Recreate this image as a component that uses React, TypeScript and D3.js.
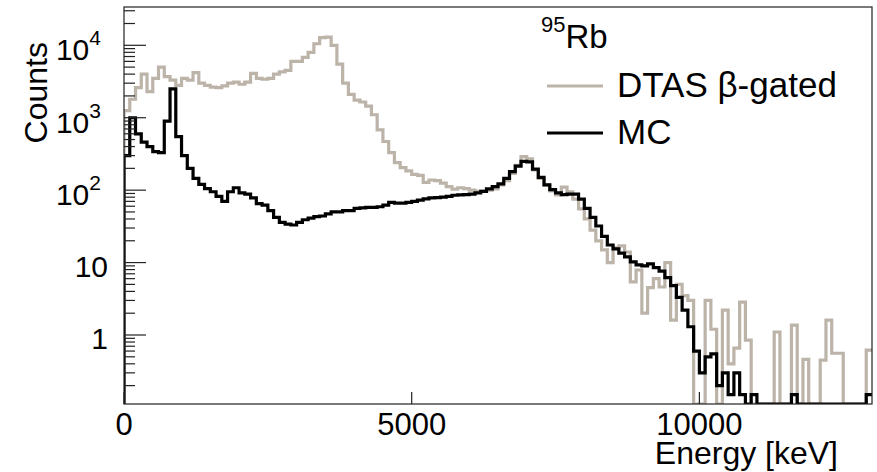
import React from 'react';
import * as d3 from 'd3';

// ---- data (bin width 100 keV, bins start at 0 keV) ----
const binWidth = 100;
const mcCounts = [
  300, 1000, 600, 460, 400, 340, 330, 900, 2500, 550,
  300, 200, 145, 120, 105, 95, 82, 70, 95, 108,
  92, 88, 78, 65, 62, 52, 42, 36, 34, 33,
  36, 39, 41, 43, 44, 47, 50, 50, 52, 52,
  56, 57, 58, 58, 59, 62, 68, 66, 66, 68,
  70, 73, 76, 78, 79, 80, 82, 85, 86, 87,
  88, 92, 96, 104, 112, 122, 145, 180, 215, 250,
  245, 195, 150, 118, 102, 92, 87, 88, 88, 75,
  56, 42, 32, 23, 17.5, 15.5, 13.5, 12, 10.2, 9.3,
  9.0, 9.6, 8.5, 7.6, 6.2, 4.8, 3.3, 2.2, 1.3, 0.6,
  0.3, 0.5, 0.55, 0.2, 0.3, 0.15, 0.3, 0.15, 0, 0.15,
  0, 0, 0, 0, 0, 0, 0.15, 0, 0, 0,
  0, 0, 0, 0, 0, 0, 0, 0, 0, 0.15,
];
const dtasCounts = [
  1250, 1800, 2600, 4000, 2300, 3500, 5000, 3700, 3300, 2800,
  3500, 3300, 4200, 3000, 2800, 2650, 2600, 2750, 3000, 3100,
  2900, 3100, 4100, 3500, 3400, 3500, 4000, 4300, 4500, 6000,
  6000, 6800, 8000, 10500, 12800, 13000, 10000, 5500, 3000, 2100,
  1750, 1650, 1450, 1100, 680, 470, 330, 240, 205, 185,
  165, 160, 128, 138, 135, 125, 112, 103, 108, 105,
  100, 96, 97, 100, 104, 118, 135, 170, 220, 290,
  270, 190, 145, 118, 98, 86, 110, 95, 75, 55,
  40, 28, 20, 15, 10, 16, 17, 14, 5.4, 7.9,
  2.0, 4.5, 6.0, 4.6, 10, 1.6, 5, 3.5, 3.0, 0,
  0, 3.0, 1.2, 0, 2.2, 0.4, 0.66, 2.85, 0.85, 0,
  0, 0, 0, 1.1, 0, 0, 1.37, 0, 0.46, 0,
  0, 0.45, 1.6, 0.56, 0.56, 0, 0, 0, 0, 0.62,
];
const xTicks = [0, 5000, 10000];
const xTickLabels = ['0', '5000', '10000'];
const yMajorTicks = [1, 10, 100, 1000, 10000];
const yTickBases = ['1', '10', '10', '10', '10'];
const yTickExps = ['', '', '2', '3', '4'];
const seriesNames = ['DTAS β-gated', 'MC'];
const seriesColors = ['#bcb3a9', '#000000'];
const headerIsotope = 'Rb';
const headerMass = '95';
const xTitle = 'Energy [keV]';
const yTitle = 'Counts';

const W = 877;
const H = 472;
const FONT = '"Liberation Sans", Arial, Helvetica, sans-serif';

export default function App() {
  const left = 124, right = 872, top = 7, bottom = 404;
  const xMax = mcCounts.length * binWidth;
  const x = d3.scaleLinear().domain([0, xMax]).range([left, right]);
  const yMin = 0.1115, yMaxV = 33800;
  const y = d3.scaleLog().domain([yMin, yMaxV]).range([bottom, top]);

  const yy = (v: number) => (v > yMin ? y(v) : bottom);

  const histPath = (vals: number[]) => {
    const pts: [number, number][] = [[x(0), bottom]];
    vals.forEach((v, i) => pts.push([x(i * binWidth), yy(v)]));
    pts.push([x(vals.length * binWidth), yy(vals[vals.length - 1])]);
    return d3.line().curve(d3.curveStepAfter)(pts) || '';
  };

  const minor: number[] = [];
  for (let d = -1; d <= 4; d++) {
    for (let m = 2; m <= 9; m++) {
      const v = m * Math.pow(10, d);
      if (v > yMin && v < yMaxV) minor.push(v);
    }
  }

  return (
    <svg width={W} height={H} style={{ position: 'absolute', left: 0, top: 0, background: '#fff' }}
      fontFamily={FONT}>
      <defs>
        <clipPath id="plotclip">
          <rect x={left} y={top} width={right - left} height={bottom - top} />
        </clipPath>
      </defs>
      <rect x={0} y={0} width={W} height={H} fill="#fff" />
      <g clipPath="url(#plotclip)" fill="none" strokeLinejoin="miter">
        <path d={histPath(dtasCounts)} stroke={seriesColors[0]} strokeWidth={3.2} />
        <path d={histPath(mcCounts)} stroke={seriesColors[1]} strokeWidth={3.2} />
      </g>
      {/* frame */}
      <rect x={left} y={top} width={right - left} height={bottom - top} fill="none" stroke="#222" strokeWidth={1.2} />
      {/* y ticks */}
      {yMajorTicks.map((v) => (
        <line key={'ym' + v} x1={left} x2={left + 22} y1={y(v)} y2={y(v)} stroke="#222" strokeWidth={1.2} />
      ))}
      {minor.map((v) => (
        <line key={'yn' + v} x1={left} x2={left + 11} y1={y(v)} y2={y(v)} stroke="#222" strokeWidth={1.2} />
      ))}
      {yMajorTicks.map((v, i) =>
        yTickExps[i] ? (
          <text key={'yl' + v} x={101} y={y(v) + 15} textAnchor="end" fontSize={30} fill="#000">
            {yTickBases[i]}
            <tspan fontSize={21} dy={-15}>{yTickExps[i]}</tspan>
          </text>
        ) : (
          <text key={'yl' + v} x={108} y={y(v) + 14} textAnchor="end" fontSize={30} fill="#000">
            {yTickBases[i]}
          </text>
        )
      )}
      {/* x ticks */}
      {xTicks.map((v) => (
        <line key={'xm' + v} x1={x(v)} x2={x(v)} y1={bottom} y2={bottom - 12} stroke="#222" strokeWidth={1.2} />
      ))}
      {xTicks.map((v, i) => (
        <text key={'xl' + v} x={x(v)} y={435} textAnchor="middle" fontSize={31} fill="#000">
          {xTickLabels[i]}
        </text>
      ))}
      {/* axis titles */}
      <text x={838} y={464} textAnchor="end" fontSize={32} fill="#000">{xTitle}</text>
      <text transform="translate(47,42) rotate(-90)" textAnchor="end" fontSize={32} fill="#000">{yTitle}</text>
      {/* legend */}
      <text x={541} y={48} fill="#000">
        <tspan fontSize={22} dy={-16}>{headerMass}</tspan>
        <tspan fontSize={33} dy={16}>{headerIsotope}</tspan>
      </text>
      {seriesNames.map((n, i) => (
        <g key={n}>
          <line x1={547} x2={603} y1={86 + i * 47} y2={86 + i * 47} stroke={seriesColors[i]} strokeWidth={3.2} />
          <text x={617} y={97 + i * 47} fontSize={35} fill="#000">{n}</text>
        </g>
      ))}
    </svg>
  );
}
